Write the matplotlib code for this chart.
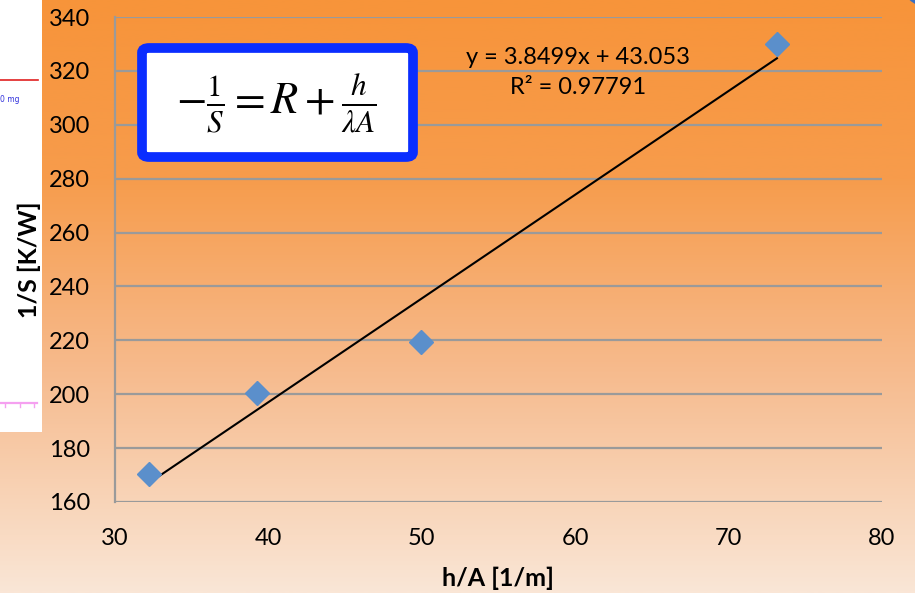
import numpy as np
import matplotlib
matplotlib.use("Agg")
import matplotlib.pyplot as plt
from matplotlib.patches import FancyBboxPatch, Rectangle, Ellipse
from matplotlib.colors import LinearSegmentedColormap

# Measured data: h/A [1/m] vs 1/S [K/W]
h_over_a = [32.2, 39.25, 49.95, 73.15]
inv_s = [170.5, 200.5, 219.5, 330.0]

# Linear trend line as reported
slope = 3.8499
intercept = 43.053
r_squared = 0.97791

x_ticks = [30, 40, 50, 60, 70, 80]
y_ticks = [160, 180, 200, 220, 240, 260, 280, 300, 320, 340]

W, H = 915, 593
FONT = "Lato"

fig = plt.figure(figsize=(W / 100, H / 100), dpi=100)


def fx(x):
    return x / W


def fy(y):
    return 1 - y / H


# Orange slide background with vertical gradient
bg = fig.add_axes([0, 0, 1, 1], zorder=0)
bg.set_axis_off()
stops = [(0.0, (247/255, 148/255, 58/255)),
         (0.30, (247/255, 156/255, 76/255)),
         (0.62, (246/255, 186/255, 140/255)),
         (1.0, (250/255, 230/255, 214/255))]
cmap = LinearSegmentedColormap.from_list("slide", stops)
grad = np.linspace(0, 1, 400).reshape(-1, 1)
bg.imshow(grad, aspect="auto", cmap=cmap, extent=[0, W, H, 0])
bg.set_xlim(0, W)
bg.set_ylim(H, 0)

# Neighbouring white chart panel on the left edge
bg.add_patch(Rectangle((0, 0), 42, 432, facecolor="white",
                       edgecolor="none", zorder=2))
bg.plot([0, 38], [80, 80], color="#e02020", lw=1.2, zorder=3)
bg.text(0, 99, "0 mg", color="#3333dd", fontsize=5.5, va="center",
        ha="left", zorder=3)
bg.plot([0, 37], [403, 403], color="#f5a0f0", lw=1.6, zorder=3)
for tx in [5, 20, 34]:
    bg.plot([tx, tx], [403, 407], color="#f5a0f0", lw=1.0, zorder=3)
bg.add_patch(Ellipse((930, -22), 60, 60, facecolor="#3a6fc0",
                     edgecolor="none", zorder=2))

# Main chart
ax = fig.add_axes([fx(115), fy(502), fx(882) - fx(115), fy(17) - fy(502)],
                  zorder=1)
ax.patch.set_alpha(0)
ax.set_xlim(30, 80)
ax.set_ylim(160, 340)
ax.set_xticks(x_ticks)
ax.set_yticks(y_ticks)
ax.set_xticklabels([str(v) for v in x_ticks])
ax.set_yticklabels([str(v) for v in y_ticks])
for v in y_ticks:
    ax.axhline(v, color="#9a9a9a", lw=1.6, zorder=1)
for side in ["top", "right", "bottom"]:
    ax.spines[side].set_visible(False)
ax.spines["left"].set_color("#9a9a9a")
ax.spines["left"].set_linewidth(1.6)
ax.tick_params(length=0, labelsize=17)
ax.tick_params(axis="y", pad=18)
ax.tick_params(axis="x", pad=19)
for lab in ax.get_xticklabels() + ax.get_yticklabels():
    lab.set_fontfamily(FONT)
    lab.set_color("black")

# Trend line between the extreme points
xl = np.array([min(h_over_a), max(h_over_a)])
ax.plot(xl, slope * xl + intercept, color="black", lw=1.5, zorder=3)
ax.plot(h_over_a, inv_s, linestyle="none", marker="D", markersize=12,
        color="#5b8fcb", markeredgecolor="#5b8fcb", zorder=4)

ax.set_xlabel("h/A [1/m]", fontfamily=FONT, fontsize=18, fontweight="bold")
ax.xaxis.set_label_coords(0.5, -(578 - 502) / (502 - 17))
ax.xaxis.label.set_va("center")
ax.set_ylabel("1/S [K/W]", fontfamily=FONT, fontsize=18, fontweight="bold")
ax.yaxis.set_label_coords(-(115 - 29) / (882 - 115), 0.5)
ax.yaxis.label.set_va("center")

fig.text(fx(578), fy(57), f"y = {slope}x + {intercept}", fontfamily=FONT,
         fontsize=17, ha="center", va="center")
fig.text(fx(578), fy(87), f"R² = {r_squared}", fontfamily=FONT,
         fontsize=17, ha="center", va="center")

# Formula box
box = FancyBboxPatch((fx(142), fy(157)), fx(413) - fx(142), fy(48) - fy(157),
                     boxstyle="round,pad=0,rounding_size=0.008",
                     transform=fig.transFigure, facecolor="white",
                     edgecolor="#0a2dff", linewidth=7, zorder=5)
fig.patches.append(box)
plt.rcParams["mathtext.fontset"] = "stix"
fig.text(fx(276), fy(104), r"$-\frac{1}{S} = R + \frac{h}{\lambda A}$",
         fontsize=32, ha="center", va="center", zorder=6)

fig.savefig("out.png", dpi=100)
